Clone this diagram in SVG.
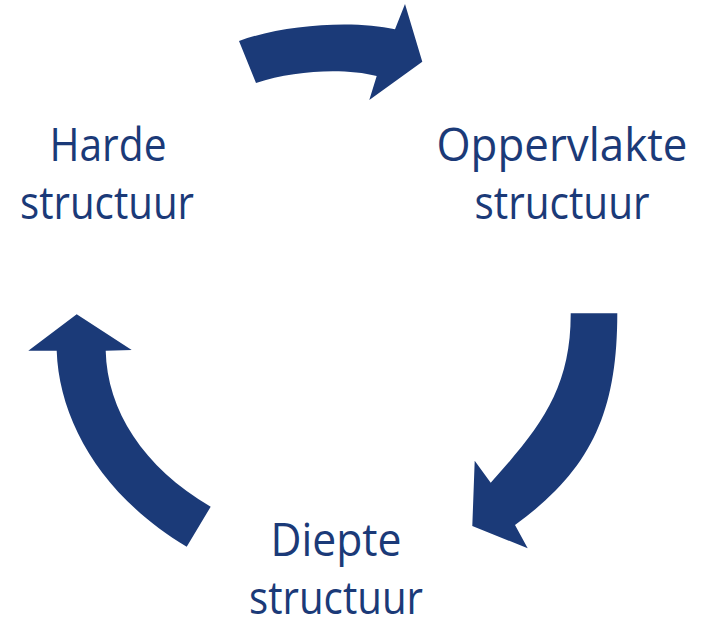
<svg xmlns="http://www.w3.org/2000/svg" width="708" height="622" viewBox="0 0 708 622">
<style>
.arrow{fill:#1b3a78;stroke:none}
.lbl{font-family:"Segoe UI","Open Sans","Noto Sans",sans-serif;font-size:46px;fill:#1b3a78;text-anchor:middle}
</style>
<rect width="708" height="622" fill="#ffffff"/>
<g id="connectors">
<path id="arrow-top" class="arrow" d="M239,41 C285,24 355,20 395,29.3 L405,4 L422.3,61.7 L369.3,100 L376.7,76 C345,68 295,70 256,83 Z"/>
<path id="arrow-right" class="arrow" d="M617.3,313.3 C617.3,413 591,470 515,525 L527.7,548.3 L472.3,526 L474.7,460.7 L490.7,482.7 C539,429 571,390 570.7,313.3 Z"/>
<path id="arrow-left" class="arrow" d="M210.7,506.7 C143,467 107,410 105.7,350.7 L131.7,350 L76.7,314.3 L28.3,350.7 L56.7,350.7 C59,420 101.5,496 186.7,546.7 Z"/>
</g>
<g id="node-harde">
<text class="lbl" x="108" y="161" textLength="117" lengthAdjust="spacingAndGlyphs">Harde</text>
<text class="lbl" x="107" y="219" textLength="174" lengthAdjust="spacingAndGlyphs">structuur</text>
</g>
<g id="node-oppervlakte">
<text class="lbl" x="562" y="161" textLength="251" lengthAdjust="spacingAndGlyphs">Oppervlakte</text>
<text class="lbl" x="562" y="219" textLength="175" lengthAdjust="spacingAndGlyphs">structuur</text>
</g>
<g id="node-diepte">
<text class="lbl" x="336" y="556" textLength="131" lengthAdjust="spacingAndGlyphs">Diepte</text>
<text class="lbl" x="336" y="614" textLength="174" lengthAdjust="spacingAndGlyphs">structuur</text>
</g>
</svg>
